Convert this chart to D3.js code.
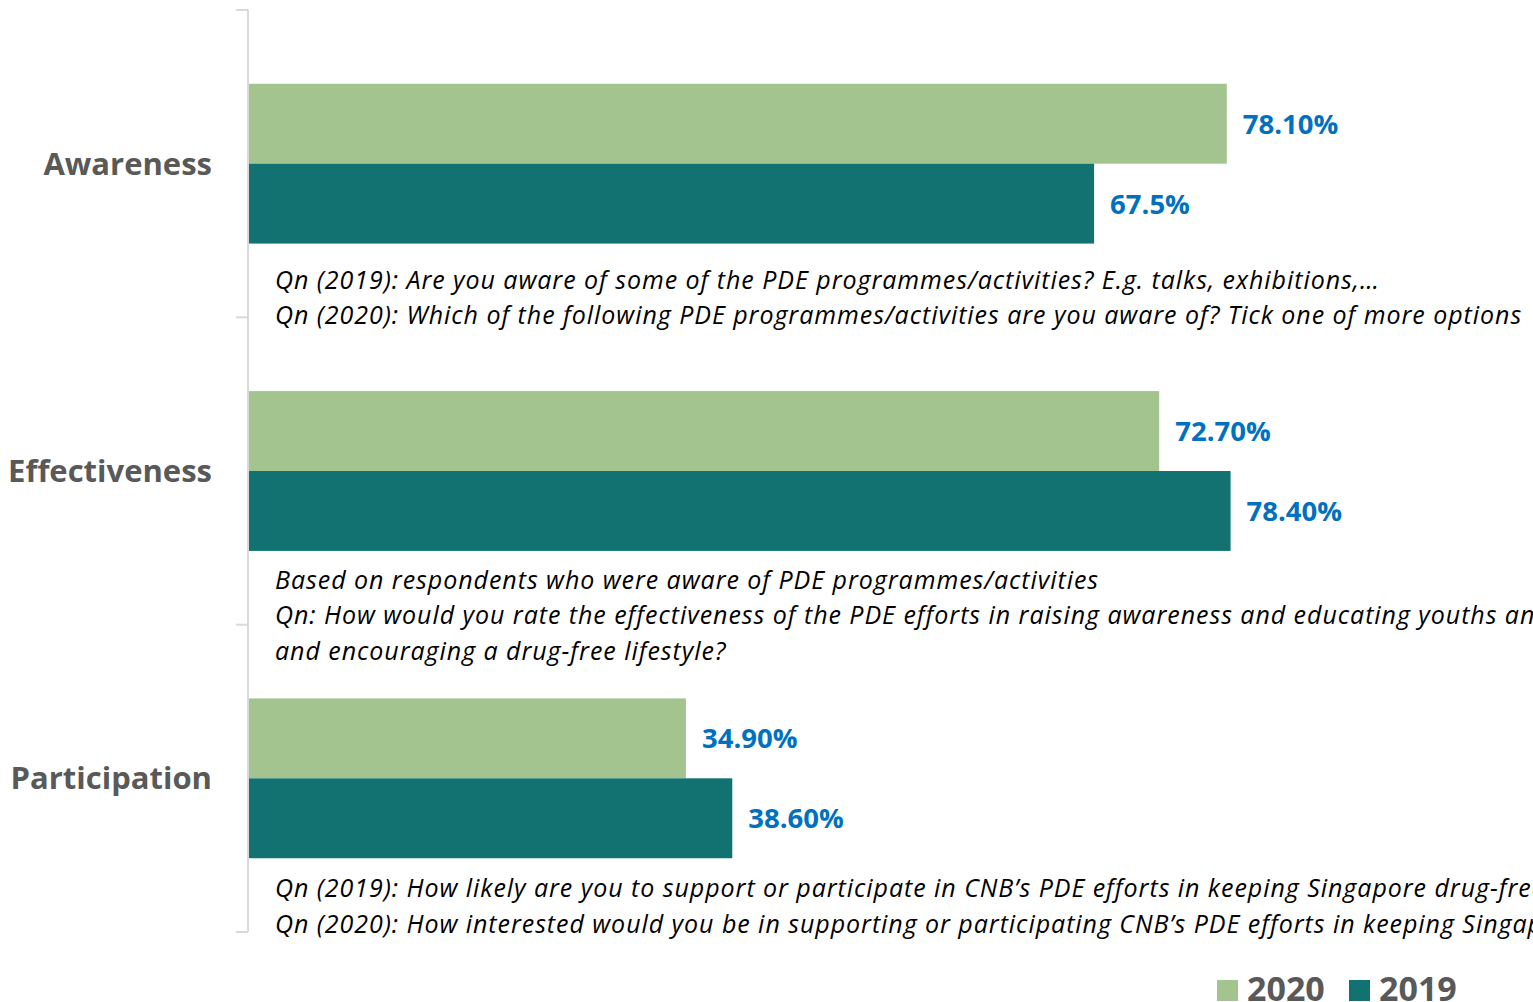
<!DOCTYPE html>
<html><head><meta charset="utf-8">
<script src="https://cdn.jsdelivr.net/npm/d3@7"></script>
<style>html,body{margin:0;padding:0;background:#fff;overflow:hidden}</style>
</head><body>
<svg id="chart" width="1533" height="1002"></svg>
<script>
const categories = ["Awareness", "Effectiveness", "Participation"];
const seriesNames = ["2020", "2019"];
const values2020 = [78.10, 72.70, 34.90];
const values2019 = [67.5, 78.40, 38.60];
const labels2020 = ["78.10%", "72.70%", "34.90%"];
const labels2019 = ["67.5%", "78.40%", "38.60%"];
const notes = [
  ["Qn (2019): Are you aware of some of the PDE programmes/activities? E.g. talks, exhibitions,\u2026",
   "Qn (2020): Which of the following PDE programmes/activities are you aware of? Tick one of more options"],
  ["Based on respondents who were aware of PDE programmes/activities",
   "Qn: How would you rate the effectiveness of the PDE efforts in raising awareness and educating youths and the public on the harms of drugs",
   "and encouraging a drug-free lifestyle?"],
  ["Qn (2019): How likely are you to support or participate in CNB\u2019s PDE efforts in keeping Singapore drug-free?",
   "Qn (2020): How interested would you be in supporting or participating CNB\u2019s PDE efforts in keeping Singapore drug-free?"]
];
const colors = {"2020": "#A3C48F", "2019": "#117271"};

const svg = d3.select("#chart");
const x = d3.scaleLinear().domain([0, 100]).range([249, 1501]);
const y = d3.scaleBand().domain(categories).range([10, 932]).paddingInner(0.48).paddingOuter(0.24);
const ySub = d3.scaleBand().domain(seriesNames).range([0, y.bandwidth()]);

const data = categories.map((c, i) => ({cat: c, vals: [
  {s: "2020", v: values2020[i], label: labels2020[i]},
  {s: "2019", v: values2019[i], label: labels2019[i]}]}));

// axis line with ticks at category boundaries
const bounds = categories.map(c => y(c) - y.step() * y.paddingInner() / 2);
bounds[0] = y.range()[0];
bounds.push(y.range()[1]);
const axisG = svg.append("g").attr("class", "axis");
axisG.append("line").attr("x1", 248).attr("x2", 248).attr("y1", y.range()[0]).attr("y2", y.range()[1])
  .attr("stroke", "#D9D9D9").attr("stroke-width", 2);
axisG.selectAll("line.tick").data(bounds).join("line").attr("class", "tick")
  .attr("x1", 236).attr("x2", 248).attr("y1", d => d).attr("y2", d => d)
  .attr("stroke", "#D9D9D9").attr("stroke-width", 2);

const groups = svg.append("g").selectAll("g.cat").data(data).join("g").attr("class", "cat")
  .attr("transform", d => `translate(0,${y(d.cat)})`);

groups.selectAll("rect").data(d => d.vals).join("rect")
  .attr("x", x(0)).attr("y", d => ySub(d.s)).attr("height", ySub.bandwidth())
  .attr("width", d => x(d.v) - x(0)).attr("fill", d => colors[d.s]);

groups.selectAll("text.val").data(d => d.vals).join("text").attr("class", "val")
  .attr("x", d => x(d.v) + 16).attr("y", d => ySub(d.s) + ySub.bandwidth() / 2)
  .attr("dy", "0.36em")
  .attr("font-family", "'Open Sans', sans-serif").attr("font-weight", "bold").attr("font-size", 27.5)
  .attr("fill", "#0070C0").text(d => d.label);

// category labels
svg.append("g").selectAll("text").data(categories).join("text")
  .attr("x", 212).attr("y", d => y(d) + y.bandwidth() / 2).attr("dy", "0.35em")
  .attr("text-anchor", "end")
  .attr("font-family", "'Open Sans', sans-serif").attr("font-weight", "bold").attr("font-size", 31)
  .attr("fill", "#595959").text(d => d);

// notes
const noteGap = [45, 38, 39];
const noteG = svg.append("g").selectAll("text").data(data).join("text")
  .attr("font-family", "'Open Sans', sans-serif").attr("font-style", "italic").attr("font-size", 25)
  .attr("letter-spacing", "0.95px")
  .attr("fill", "#000");
noteG.each(function(d, i) {
  const base = y(d.cat) + y.bandwidth() + noteGap[i];
  d3.select(this).selectAll("tspan").data(notes[i]).join("tspan")
    .attr("x", 275).attr("y", (t, j) => base + j * 35.5).text(t => t);
});

// legend
const leg = svg.append("g").selectAll("g").data(seriesNames).join("g")
  .attr("transform", (d, i) => `translate(${1217 + i * 132},980)`);
leg.append("rect").attr("width", 21).attr("height", 21).attr("fill", d => colors[d]);
leg.append("text").attr("x", 30).attr("y", 21)
  .attr("font-family", "'Open Sans', sans-serif").attr("font-weight", "bold").attr("font-size", 34)
  .attr("fill", "#595959").text(d => d);
</script>
</body></html>
